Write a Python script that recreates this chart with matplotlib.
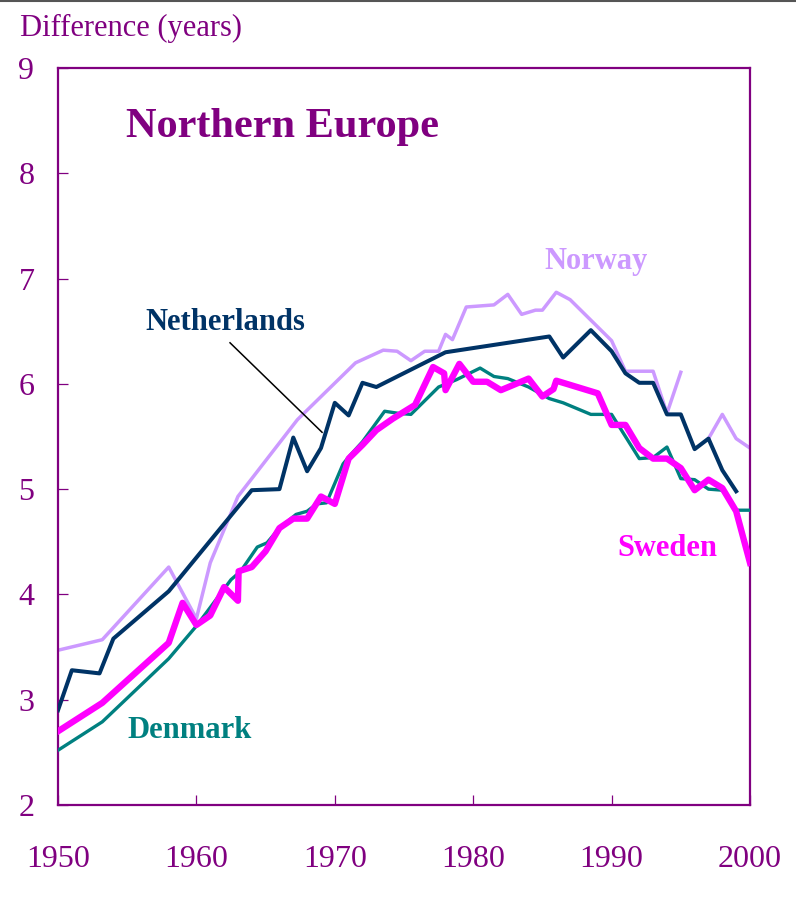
import numpy as np
import matplotlib
matplotlib.use("Agg")
import matplotlib.pyplot as plt
from matplotlib.lines import Line2D

# ---- data ----
nl_years = [1950, 1951, 1953, 1954, 1958, 1964, 1966, 1967, 1968, 1969, 1970, 1971, 1972, 1973,
            1978, 1985.5, 1986.5, 1988.5, 1990, 1991, 1992, 1993, 1994, 1995, 1996, 1997, 1998, 1999]
nl_values = [2.90, 3.28, 3.25, 3.58, 4.03, 4.99, 5.00, 5.49, 5.17, 5.39, 5.82, 5.70, 6.01, 5.97,
             6.30, 6.45, 6.25, 6.51, 6.31, 6.10, 6.01, 6.01, 5.71, 5.71, 5.38, 5.48, 5.18, 4.98]

no_years = [1950, 1953.2, 1958, 1960, 1961, 1963, 1967.3, 1971.5, 1973.5, 1974.5, 1975.5, 1976.5,
            1977.5, 1978, 1978.5, 1979.5, 1981.5, 1982.5, 1983.5, 1984.5, 1985, 1986, 1987, 1990,
            1991, 1993, 1994, 1995, 1996, 1997, 1998, 1999, 2000]
no_values = [3.47, 3.57, 4.26, 3.77, 4.30, 4.93, 5.66, 6.20, 6.32, 6.31, 6.22, 6.31,
             6.31, 6.47, 6.42, 6.73, 6.75, 6.85, 6.66, 6.70, 6.70, 6.87, 6.80, 6.41,
             6.12, 6.12, 5.72, 6.11, np.nan, 5.48, 5.71, 5.48, 5.39]

dk_years = [1950, 1953.2, 1958, 1960, 1962.5, 1963.2, 1964.4, 1965.1, 1966, 1967.2, 1968, 1968.7,
            1969.4, 1970.6, 1971.1, 1972, 1973.6, 1974.6, 1975.5, 1977.5, 1978.8, 1980.5, 1981.5,
            1982.5, 1984, 1985.5, 1986.5, 1988.5, 1990, 1992, 1993, 1994, 1995, 1996, 1997, 1998,
            1999, 2000]
dk_values = [2.52, 2.79, 3.39, 3.70, 4.14, 4.22, 4.45, 4.49, 4.63, 4.76, 4.79, 4.86,
             4.87, 5.24, 5.32, 5.45, 5.74, 5.72, 5.71, 5.97, 6.04, 6.15, 6.07,
             6.05, 5.97, 5.86, 5.82, 5.71, 5.71, 5.29, 5.30, 5.40, 5.10, 5.09, 5.00, 4.99,
             4.80, 4.80]

se_years = [1950, 1953.2, 1958, 1959, 1960, 1961, 1962, 1963, 1963.05, 1964, 1965, 1966, 1967, 1968,
            1969, 1970, 1971, 1972, 1973, 1974.2, 1975.8, 1977.1, 1977.9, 1978, 1979, 1980, 1981,
            1982, 1984, 1985, 1985.8, 1986, 1989, 1990, 1991, 1992, 1993, 1994, 1995, 1996, 1997,
            1998, 1999, 2000]
se_values = [2.70, 2.97, 3.54, 3.92, 3.71, 3.80, 4.07, 3.94, 4.22, 4.26, 4.41, 4.63, 4.72, 4.72,
             4.93, 4.86, 5.29, 5.42, 5.56, 5.67, 5.80, 6.16, 6.10, 5.94, 6.19, 6.02, 6.02,
             5.94, 6.05, 5.88, 5.95, 6.03, 5.91, 5.61, 5.61, 5.39, 5.29, 5.29, 5.20, 4.99, 5.09,
             5.01, 4.79, 4.30]

x_ticks = [1950, 1960, 1970, 1980, 1990, 2000]
y_ticks = [2, 3, 4, 5, 6, 7, 8, 9]

# ---- style ----
PURPLE = "#800080"
C_NL = "#003366"
C_NO = "#CC99FF"
C_DK = "#008080"
C_SE = "#FF00FF"
SERIF = ["Liberation Serif", "DejaVu Serif"]

fig = plt.figure(figsize=(7.96, 9.01), dpi=100)
ax = fig.add_axes([58 / 796, 1 - 805 / 901, (750 - 58) / 796, (805 - 68) / 901])

ax.plot(nl_years, nl_values, color=C_NL, lw=2.9, zorder=3)
ax.plot(no_years, no_values, color=C_NO, lw=2.5, zorder=2)
ax.plot(dk_years, dk_values, color=C_DK, lw=2.4, zorder=4)
ax.plot(se_years, se_values, color=C_SE, lw=4.6, zorder=5)

ax.set_xlim(1950, 2000)
ax.set_ylim(2, 9)
ax.set_xticks(x_ticks)
ax.set_yticks(y_ticks)
ax.set_xticklabels([str(v) for v in x_ticks])
ax.set_yticklabels([str(v) for v in y_ticks])

for s in ax.spines.values():
    s.set_color(PURPLE)
    s.set_linewidth(1.6)

ax.tick_params(axis="both", direction="in", length=7, width=0.9, color=PURPLE,
               labelcolor=PURPLE, labelsize=23)
ax.tick_params(axis="x", pad=29)
ax.tick_params(axis="y", pad=17)
for lab in ax.get_xticklabels() + ax.get_yticklabels():
    lab.set_fontfamily(SERIF)

# texts
ax.text(1966.2, 8.44, "Northern Europe", color=PURPLE, fontsize=30.5, fontweight="bold",
        family=SERIF, ha="center", va="center")
ax.text(1988.9, 7.16, "Norway", color=C_NO, fontsize=22, fontweight="bold",
        family=SERIF, ha="center", va="center")
ax.text(1962.1, 6.58, "Netherlands", color=C_NL, fontsize=22, fontweight="bold",
        family=SERIF, ha="center", va="center")
ax.text(1959.5, 2.71, "Denmark", color=C_DK, fontsize=22, fontweight="bold",
        family=SERIF, ha="center", va="center")
ax.text(1994.0, 4.44, "Sweden", color=C_SE, fontsize=22, fontweight="bold",
        family=SERIF, ha="center", va="center")

# leader line for Netherlands
ax.plot([1962.43, 1969.08], [6.39, 5.54], color="black", lw=1.1, zorder=6)

fig.text(20 / 796, 1 - 28 / 901, "Difference (years)", color=PURPLE, fontsize=22,
         family=SERIF, ha="left", va="center")

fig.add_artist(Line2D([0, 1], [0.999, 0.999], transform=fig.transFigure,
                      color="#555555", lw=1.5))

fig.savefig("out.png", dpi=100)
